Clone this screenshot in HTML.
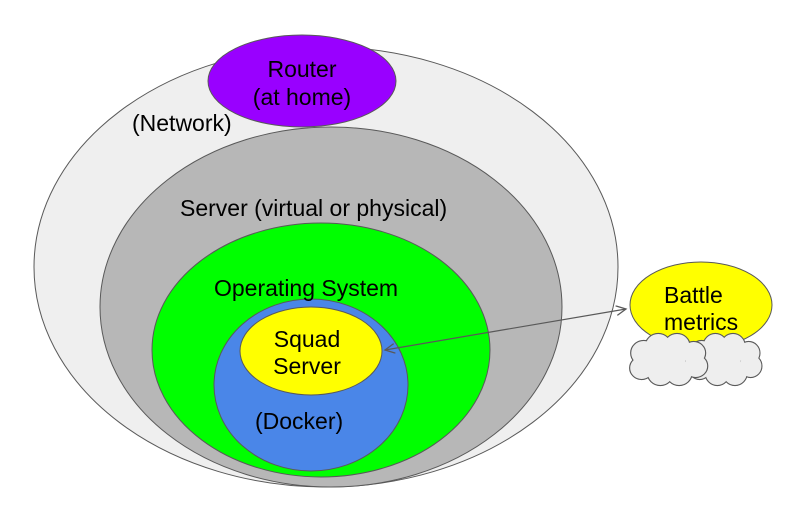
<!DOCTYPE html>
<html><head><meta charset="utf-8"><style>
html,body{margin:0;padding:0;background:#fff;}
svg{display:block;}
text{font-family:"Liberation Sans",Arial,sans-serif;font-size:23px;fill:#000;}
</style></head><body>
<svg width="806" height="509" viewBox="0 0 806 509" xmlns="http://www.w3.org/2000/svg">
<defs>
<marker id="ah" markerWidth="12" markerHeight="10" refX="10" refY="5" orient="auto-start-reverse" markerUnits="userSpaceOnUse">
<path d="M0,0 L10,5 L0,10" fill="none" stroke="#595959" stroke-width="1.3"/>
</marker>
<g id="cl">
<circle cx="18" cy="20" r="12"/><circle cx="32" cy="13" r="12"/><circle cx="50" cy="13" r="12"/><circle cx="66" cy="20" r="11"/>
<circle cx="68" cy="33" r="11"/><circle cx="52" cy="40" r="12"/><circle cx="34" cy="40" r="12"/><circle cx="16" cy="35" r="11"/>
<circle cx="40" cy="27" r="18"/>
</g>
</defs>
<ellipse cx="326" cy="267" rx="292" ry="220" fill="#efefef" stroke="#595959" stroke-width="1"/>
<ellipse cx="331" cy="307" rx="231" ry="180" fill="#b7b7b7" stroke="#595959" stroke-width="1"/>
<ellipse cx="302" cy="81" rx="94" ry="46" fill="#9900ff" stroke="#595959" stroke-width="1"/>
<ellipse cx="321" cy="350" rx="169" ry="127" fill="#00ff00" stroke="#595959" stroke-width="1"/>
<ellipse cx="311" cy="385" rx="97" ry="86" fill="#4a86e8" stroke="#595959" stroke-width="1"/>
<ellipse cx="311" cy="351" rx="71" ry="44" fill="#ffff00" stroke="#595959" stroke-width="1"/>
<ellipse cx="701" cy="305" rx="71" ry="43" fill="#ffff00" stroke="#595959" stroke-width="1"/>
<g transform="translate(684,333) scale(0.98,1)">
<use href="#cl" fill="#eeeeee" stroke="#595959" stroke-width="2.2"/><use href="#cl" fill="#eeeeee"/>
</g>
<g transform="translate(625,333) scale(1.04,1)">
<use href="#cl" fill="#eeeeee" stroke="#595959" stroke-width="2.2"/><use href="#cl" fill="#eeeeee"/>
</g>
<line x1="385" y1="350" x2="626" y2="309" stroke="#595959" stroke-width="1.2" marker-start="url(#ah)" marker-end="url(#ah)"/>
<text x="302" y="77" text-anchor="middle">Router</text>
<text x="302" y="105" text-anchor="middle">(at home)</text>
<text x="132" y="131">(Network)</text>
<text x="180" y="216">Server (virtual or physical)</text>
<text x="214" y="296">Operating System</text>
<text x="307" y="347" text-anchor="middle">Squad</text>
<text x="307" y="374" text-anchor="middle">Server</text>
<text x="255" y="429">(Docker)</text>
<text x="664" y="303">Battle</text>
<text x="664" y="330">metrics</text>
</svg>
</body></html>
